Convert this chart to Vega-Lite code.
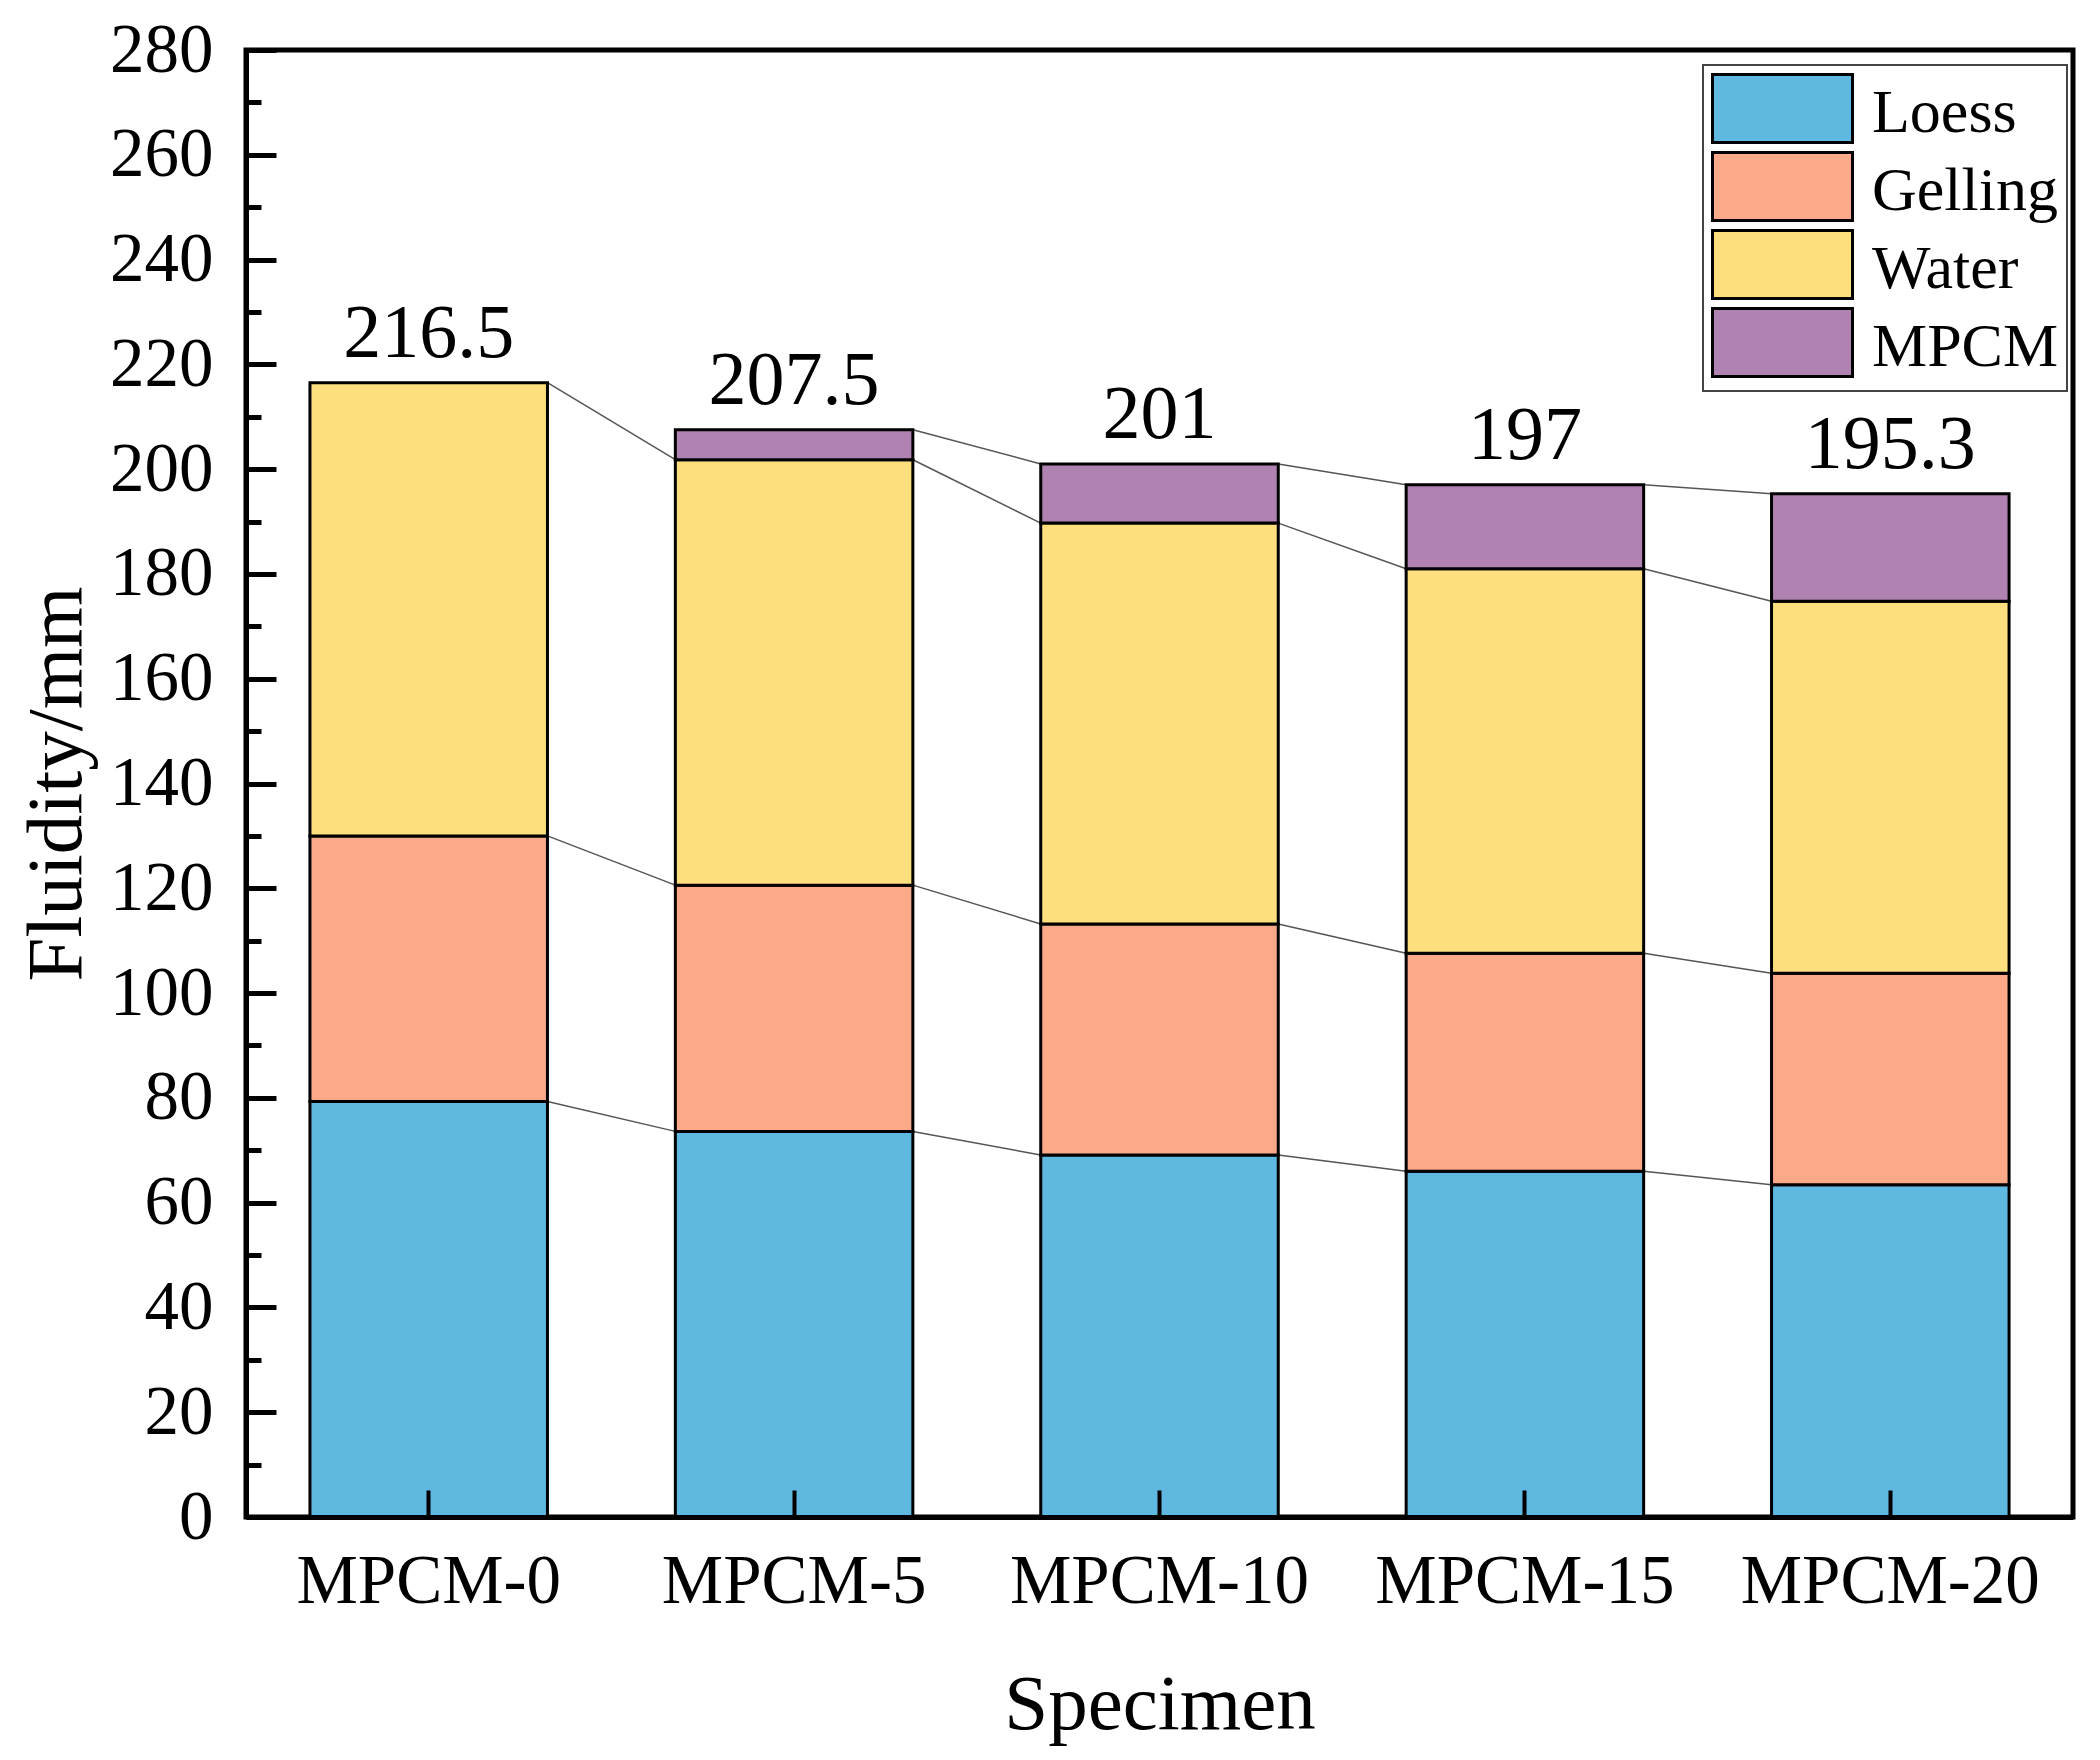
{
  "$schema": "https://vega.github.io/schema/vega-lite/v6.json",
  "width": 1827,
  "height": 1467,
  "autosize": {"type": "none"},
  "padding": {"left": 246, "top": 50, "right": 27, "bottom": 243},
  "background": "white",
  "config": {
    "view": {"stroke": "black", "strokeWidth": 5},
    "font": "Liberation Serif",
    "legend": {"strokeWidth": 2}
  },
  "datasets": {
    "parts": [
      {"specimen": "MPCM-0", "component": "Loess", "value": 79.3},
      {"specimen": "MPCM-0", "component": "Gelling", "value": 50.7},
      {"specimen": "MPCM-0", "component": "Water", "value": 86.5},
      {"specimen": "MPCM-5", "component": "Loess", "value": 73.6},
      {"specimen": "MPCM-5", "component": "Gelling", "value": 47.0},
      {"specimen": "MPCM-5", "component": "Water", "value": 81.2},
      {"specimen": "MPCM-5", "component": "MPCM", "value": 5.7},
      {"specimen": "MPCM-10", "component": "Loess", "value": 69.1},
      {"specimen": "MPCM-10", "component": "Gelling", "value": 44.1},
      {"specimen": "MPCM-10", "component": "Water", "value": 76.5},
      {"specimen": "MPCM-10", "component": "MPCM", "value": 11.3},
      {"specimen": "MPCM-15", "component": "Loess", "value": 66.0},
      {"specimen": "MPCM-15", "component": "Gelling", "value": 41.6},
      {"specimen": "MPCM-15", "component": "Water", "value": 73.4},
      {"specimen": "MPCM-15", "component": "MPCM", "value": 16.0},
      {"specimen": "MPCM-20", "component": "Loess", "value": 63.4},
      {"specimen": "MPCM-20", "component": "Gelling", "value": 40.4},
      {"specimen": "MPCM-20", "component": "Water", "value": 71.0},
      {"specimen": "MPCM-20", "component": "MPCM", "value": 20.5}
    ],
    "links": [
      {"from": "MPCM-0", "to": "MPCM-5", "y1": 79.3, "y2": 73.6},
      {"from": "MPCM-5", "to": "MPCM-10", "y1": 73.6, "y2": 69.1},
      {"from": "MPCM-10", "to": "MPCM-15", "y1": 69.1, "y2": 66.0},
      {"from": "MPCM-15", "to": "MPCM-20", "y1": 66.0, "y2": 63.4},
      {"from": "MPCM-0", "to": "MPCM-5", "y1": 130.0, "y2": 120.6},
      {"from": "MPCM-5", "to": "MPCM-10", "y1": 120.6, "y2": 113.2},
      {"from": "MPCM-10", "to": "MPCM-15", "y1": 113.2, "y2": 107.6},
      {"from": "MPCM-15", "to": "MPCM-20", "y1": 107.6, "y2": 103.8},
      {"from": "MPCM-0", "to": "MPCM-5", "y1": 216.5, "y2": 201.8},
      {"from": "MPCM-5", "to": "MPCM-10", "y1": 201.8, "y2": 189.7},
      {"from": "MPCM-10", "to": "MPCM-15", "y1": 189.7, "y2": 181.0},
      {"from": "MPCM-15", "to": "MPCM-20", "y1": 181.0, "y2": 174.8},
      {"from": "MPCM-5", "to": "MPCM-10", "y1": 207.5, "y2": 201.0},
      {"from": "MPCM-10", "to": "MPCM-15", "y1": 201.0, "y2": 197.0},
      {"from": "MPCM-15", "to": "MPCM-20", "y1": 197.0, "y2": 195.3}
    ]
  },
  "encoding": {
    "x": {
      "type": "nominal",
      "title": "Specimen",
      "scale": {"domain": ["MPCM-0", "MPCM-5", "MPCM-10", "MPCM-15", "MPCM-20"], "paddingInner": 0.35, "paddingOuter": 0.175},
      "axis": {
        "zindex": 1,
        "labelAngle": 0,
        "labelFont": "Liberation Serif",
        "labelFontSize": 69,
        "labelColor": "black",
        "labelBaseline": "alphabetic",
        "labelPadding": 112,
        "labelLimit": 500,
        "tickSize": -27,
        "tickWidth": 4,
        "tickColor": "black",
        "domainColor": "black",
        "domainWidth": 5,
        "titleFont": "Liberation Serif",
        "titleFontSize": 79,
        "titleFontWeight": "normal",
        "titleColor": "black",
        "titleBaseline": "alphabetic",
        "titleX": 913.5,
        "titleY": 211
      }
    }
  },
  "layer": [
    {
      "data": {"name": "links"},
      "mark": {"type": "rule", "color": "#555555", "strokeWidth": 1.5},
      "encoding": {
        "x": {"field": "from", "type": "nominal", "bandPosition": 1},
        "x2": {"field": "to", "bandPosition": 0},
        "y": {"field": "y1", "type": "quantitative"},
        "y2": {"field": "y2"}
      }
    },
    {
      "data": {"name": "parts"},
      "transform": [
        {"calculate": "indexof(['Loess','Gelling','Water','MPCM'], datum.component)", "as": "ord"}
      ],
      "mark": {"type": "bar", "stroke": "black", "strokeWidth": 3, "opacity": 1},
      "encoding": {
        "x": {"field": "specimen", "type": "nominal"},
        "y": {
          "field": "value",
          "type": "quantitative",
          "stack": "zero",
          "title": "Fluidity/mm",
          "scale": {"domain": [0, 280], "nice": false},
          "axis": {
            "zindex": 1,
            "values": [0, 10, 20, 30, 40, 50, 60, 70, 80, 90, 100, 110, 120, 130, 140, 150, 160, 170, 180, 190, 200, 210, 220, 230, 240, 250, 260, 270, 280],
            "labelExpr": "datum.value % 20 === 0 ? datum.label : ''",
            "labelOverlap": false,
            "grid": false,
            "tickSize": {"condition": {"test": "datum.value % 20 === 0", "value": -30}, "value": -15},
            "tickWidth": 5,
            "tickColor": "black",
            "domainColor": "black",
            "domainWidth": 5,
            "labelFont": "Liberation Serif",
            "labelFontSize": 69,
            "labelColor": "black",
            "labelPadding": 63,
            "titleFont": "Liberation Serif",
            "titleFontSize": 79,
            "titleFontWeight": "normal",
            "titleColor": "black",
            "titleBaseline": "alphabetic",
            "titleX": -166,
            "titleY": 733.5
          }
        },
        "color": {
          "field": "component",
          "type": "nominal",
          "scale": {"domain": ["Loess", "Gelling", "Water", "MPCM"], "range": ["#5EB8E0", "#FCA98A", "#FEDF7E", "#B082B1"]},
          "legend": {
            "title": null,
            "orient": "none",
            "legendX": 1457,
            "legendY": 15,
            "labelFont": "Liberation Serif",
            "labelFontSize": 62,
            "labelColor": "black",
            "labelLimit": 400,
            "labelOffset": 18,
            "labelBaseline": "bottom",
            "symbolType": "M-1,-1H1V-0.03H-1Z",
            "symbolSize": 19600,
            "symbolStrokeColor": "black",
            "symbolStrokeWidth": 3,
            "symbolOpacity": 1,
            "strokeColor": "#444444",
            "fillColor": "white",
            "padding": 8,
            "rowPadding": -3
          }
        },
        "order": {"field": "ord", "type": "quantitative"}
      }
    },
    {
      "data": {"name": "parts"},
      "transform": [
        {"aggregate": [{"op": "sum", "field": "value", "as": "total"}], "groupby": ["specimen"]}
      ],
      "mark": {"type": "text", "font": "Liberation Serif", "fontSize": 76, "color": "black", "baseline": "alphabetic", "dy": -26},
      "encoding": {
        "x": {"field": "specimen", "type": "nominal"},
        "y": {"field": "total", "type": "quantitative"},
        "text": {"field": "total", "type": "quantitative", "format": ".1~f"}
      }
    }
  ]
}
